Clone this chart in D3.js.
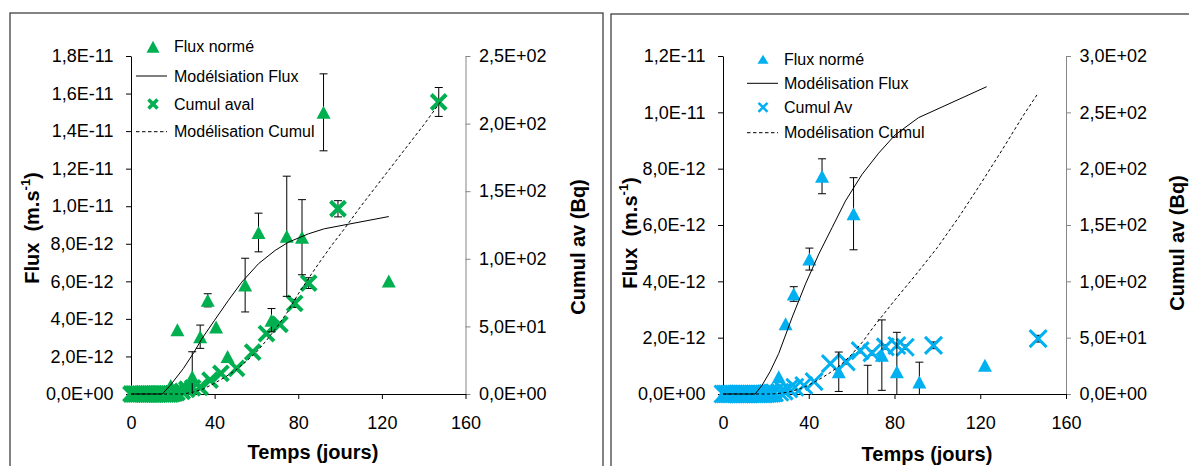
<!DOCTYPE html>
<html>
<head>
<meta charset="utf-8">
<script src="https://cdn.jsdelivr.net/npm/d3@7"></script>
<style>
  body { margin: 0; background: #ffffff; }
  svg { display: block; font-family: "Liberation Sans", Arial, sans-serif; }
</style>
</head>
<body>
<svg id="chart" width="1189" height="466"></svg>
<script>
// ---------------- DATA ----------------
const timeTicks = [0, 40, 80, 120, 160];
const timeTickLabels = ["0", "40", "80", "120", "160"];

// Left panel
const leftFluxTicks = [0, 2e-12, 4e-12, 6e-12, 8e-12, 1e-11, 1.2e-11, 1.4e-11, 1.6e-11, 1.8e-11];
const leftFluxTickLabels = ["0,0E+00", "2,0E-12", "4,0E-12", "6,0E-12", "8,0E-12", "1,0E-11", "1,2E-11", "1,4E-11", "1,6E-11", "1,8E-11"];
const leftCumTicks = [0, 50, 100, 150, 200, 250];
const leftCumTickLabels = ["0,0E+00", "5,0E+01", "1,0E+02", "1,5E+02", "2,0E+02", "2,5E+02"];

const leftFluxT = [0,1,2,3,4,5,6,7,8,9,10,11,12,13,14,15,16,17, 19, 22.2, 25.9, 29.3, 33.1, 36.7, 40.7, 46.2, 54.6, 61.0, 67.2, 74.5, 81.8, 92.1, 123.3];
const leftFluxV = [0,0,0,0,0,0,0,0,0,0,0,0,0,0,0,0,0,0, 0.45e-12, 3.42e-12, 0.35e-12, 0.92e-12, 3.05e-12, 4.99e-12, 3.57e-12, 2.0e-12, 5.8e-12, 8.6e-12, 3.93e-12, 8.4e-12, 8.35e-12, 15.0e-12, 6.02e-12];
const leftFluxErr = [0,0,0,0,0,0,0,0,0,0,0,0,0,0,0,0,0,0, 0, 0, 0, 1.33e-12, 0.62e-12, 0.35e-12, 0, 0, 1.43e-12, 1.03e-12, 0.62e-12, 3.2e-12, 2.0e-12, 2.05e-12, 0];

const leftCumT = [0,1,2,3,4,5,6,7,8,9,10,11,12,13,14,15,16,17,18,19,20,21,22, 24.5, 26.7, 29.5, 33, 37.8, 43, 50.5, 58.2, 64.8, 71.2, 78.3, 85, 99, 147.2];
const leftCumV = [0,0,0,0,0,0,0,0,0,0,0,0,0,0,0,0,0,0,0,0,0.3,0.6,1.0, 2, 3.5, 4.5, 5, 10.3, 15.2, 18.9, 31, 44.7, 51.5, 67, 82, 137, 216];
const leftCumErr = [0,0,0,0,0,0,0,0,0,0,0,0,0,0,0,0,0,0,0,0,0,0,0, 0, 0, 0, 0, 0, 0, 0, 0, 0, 0, 3, 4, 6, 10.7];

const leftModelFluxT = [0, 15, 18.7, 25, 30, 34, 40, 46.6, 53, 61, 69, 75.4, 84.9, 92.5, 123.3];
const leftModelFluxV = [0, 0, 0.45e-12, 1.35e-12, 2.2e-12, 2.96e-12, 3.93e-12, 4.99e-12, 5.96e-12, 6.94e-12, 7.65e-12, 8.09e-12, 8.53e-12, 8.80e-12, 9.45e-12];

const leftModelCumT = [0, 25, 30, 35, 40, 45, 50, 55, 60, 65, 70, 75, 80, 86, 90, 96, 102, 110, 120, 130, 140, 148];
const leftModelCumV = [0, 0, 1.5, 4, 8, 12.5, 17.5, 24, 31, 40, 50, 61, 74, 88, 97, 110, 122, 139, 159, 179, 199, 216];

const leftLegendLabels = ["Flux normé", "Modélsiation Flux", "Cumul aval", "Modélisation Cumul"];

// Right panel
const rightFluxTicks = [0, 2e-12, 4e-12, 6e-12, 8e-12, 1e-11, 1.2e-11];
const rightFluxTickLabels = ["0,0E+00", "2,0E-12", "4,0E-12", "6,0E-12", "8,0E-12", "1,0E-11", "1,2E-11"];
const rightCumTicks = [0, 50, 100, 150, 200, 250, 300];
const rightCumTickLabels = ["0,0E+00", "5,0E+01", "1,0E+02", "1,5E+02", "2,0E+02", "2,5E+02", "3,0E+02"];

const rightFluxT = [0,1,2,3,4,5,6,7,8,9,10,11,12,13,14,15,16,17,18,19,20, 26, 29.2, 33, 40.3, 46.2, 54, 60.9, 67.5, 74.1, 81.1, 91.6, 122.2];
const rightFluxV = [0,0,0,0,0,0,0,0,0,0,0,0,0,0,0,0,0,0,0,0,0, 0.61e-12, 2.49e-12, 3.55e-12, 4.79e-12, 7.73e-12, 0.79e-12, 6.40e-12, -0.1e-12, 1.38e-12, 0.79e-12, 0.43e-12, 1.02e-12];
const rightFluxErr = [0,0,0,0,0,0,0,0,0,0,0,0,0,0,0,0,0,0,0,0,0, 0, 0, 0.26e-12, 0.39e-12, 0.62e-12, 0.7e-12, 1.28e-12, 1.12e-12, 1.25e-12, 1.4e-12, 0.7e-12, 0];

const rightCumT = [0,1,2,3,4,5,6,7,8,9,10,11,12,13,14,15,16,17,18,19,20,21,22,23,24, 26.5, 28.5, 30.7, 33.5, 37.7, 42.5, 50.1, 57.5, 64, 69.5, 75.7, 81.1, 85, 98.2, 147];
const rightCumV = [0,0,0,0,0,0,0,0,0,0,0,0,0,0,0,0,0,0,0,0,0.2,0.4,0.6,0.8,1.0, 1.5, 2.5, 4.5, 6, 7.5, 11, 27, 28.5, 38.5, 36.5, 41.8, 43, 41.5, 43.2, 49.1];
const rightCumErr = [0,0,0,0,0,0,0,0,0,0,0,0,0,0,0,0,0,0,0,0,0,0,0,0,0, 0, 0, 0, 0, 0, 0, 0, 2, 2, 2, 2, 2, 2, 3, 3];

const rightModelFluxT = [0, 15, 18.3, 22, 26, 32.3, 38.5, 44.7, 50.9, 57.1, 64.8, 72.6, 80.3, 91.2, 123];
const rightModelFluxV = [0, 0, 0.32e-12, 0.8e-12, 1.44e-12, 2.73e-12, 3.91e-12, 4.97e-12, 5.91e-12, 6.85e-12, 7.79e-12, 8.55e-12, 9.20e-12, 9.81e-12, 10.91e-12];

const rightModelCumT = [0, 22, 25, 30, 35, 40, 45, 50, 55, 60, 65, 70, 75, 80, 90, 100, 110, 120, 130, 140, 147];
const rightModelCumV = [0, 0, 0.3, 1.5, 4, 8, 13, 19, 26, 35, 46, 59, 71, 83, 106, 130, 157, 186, 216, 247, 267];

const rightLegendLabels = ["Flux normé", "Modélisation Flux", "Cumul Av", "Modélisation Cumul"];

const xTitle = "Temps (jours)";
const yTitleMain = "Flux  (m.s";
const yTitleSup = "-1";
const y2Title = "Cumul av (Bq)";

// ---------------- DRAWING ----------------
const svg = d3.select("#chart");
const FONT = '"Liberation Sans", Arial, sans-serif';

// frames
svg.append("rect").attr("x", 10).attr("y", 13).attr("width", 593).attr("height", 470)
  .attr("fill", "none").attr("stroke", "#404040").attr("stroke-width", 1.3);
svg.append("rect").attr("x", 611).attr("y", 14).attr("width", 600).attr("height", 470)
  .attr("fill", "none").attr("stroke", "#404040").attr("stroke-width", 1.3);

function zip(a, b, c) { return a.map((d, i) => ({ t: d, v: b[i], e: c ? c[i] : 0 })); }

function triPath(cx, cy, w, h) {
  return `M${cx},${cy - h / 2}L${cx + w / 2},${cy + h / 2}L${cx - w / 2},${cy + h / 2}Z`;
}
function crossPath(cx, cy, r) {
  return `M${cx - r},${cy - r}L${cx + r},${cy + r}M${cx - r},${cy + r}L${cx + r},${cy - r}`;
}

function panel(o) {
  const g = svg.append("g");
  const top = 56, bottom = 394;
  const x = d3.scaleLinear().domain([0, 160]).range([o.x0, o.x1]);
  const yF = d3.scaleLinear().domain([0, o.fluxMax]).range([bottom, top]);
  const yC = d3.scaleLinear().domain([0, o.cumMax]).range([bottom, top]);

  // axes
  const axB = g.append("g").attr("transform", `translate(0,${bottom})`)
    .call(d3.axisBottom(x).tickValues(timeTicks).tickFormat((d, i) => timeTickLabels[i])
      .tickSize(5).tickSizeOuter(0).tickPadding(17.5));
  const axL = g.append("g").attr("transform", `translate(${o.x0},0)`)
    .call(d3.axisLeft(yF).tickValues(o.fluxTicks).tickFormat((d, i) => o.fluxTickLabels[i])
      .tickSize(5).tickSizeOuter(0).tickPadding(12.5));
  const axR = g.append("g").attr("transform", `translate(${o.x1},0)`)
    .call(d3.axisRight(yC).tickValues(o.cumTicks).tickFormat((d, i) => o.cumTickLabels[i])
      .tickSize(5).tickSizeOuter(0).tickPadding(8.5));
  [axB, axL, axR].forEach(a => {
    a.attr("font-size", 18).attr("font-family", FONT);
    a.selectAll("text").attr("fill", "#000");
  });
  axB.selectAll("path,line").attr("stroke", "#000");
  axL.selectAll("path,line").attr("stroke", "#000");
  axR.selectAll("path,line").attr("stroke", "#868686");
  axB.raise();

  // titles
  g.append("text").attr("x", o.xTitleX).attr("y", o.xTitleY)
    .attr("text-anchor", "middle").attr("dominant-baseline", "central")
    .attr("font-size", 20).attr("font-weight", "bold").attr("fill", "#000").text(xTitle);
  const yt = g.append("text").attr("transform", `translate(${o.yTitleX},${o.yTitleY}) rotate(-90)`)
    .attr("text-anchor", "middle").attr("dominant-baseline", "central")
    .attr("font-size", 20).attr("font-weight", "bold").attr("fill", "#000").style("white-space", "pre");
  yt.append("tspan").text(yTitleMain);
  yt.append("tspan").attr("font-size", 13).attr("dy", -7).text(yTitleSup);
  yt.append("tspan").attr("dy", 7).text(")");
  g.append("text").attr("transform", `translate(${o.y2TitleX},${o.y2TitleY}) rotate(-90)`)
    .attr("text-anchor", "middle").attr("dominant-baseline", "central")
    .attr("font-size", 20).attr("font-weight", "bold").attr("fill", "#000").text(y2Title);

  const fluxPts = zip(o.fluxT, o.fluxV, o.fluxErr);
  const cumPts = zip(o.cumT, o.cumV, o.cumErr);

  function errBars(pts, y, dom) {
    const eg = g.append("g").attr("stroke", "#000").attr("stroke-width", 1).attr("fill", "none");
    pts.filter(d => d.e > 0).forEach(d => {
      const cx = x(d.t);
      const hi = Math.min(d.v + d.e, dom), lo = Math.max(d.v - d.e, 0);
      eg.append("line").attr("x1", cx).attr("x2", cx).attr("y1", y(hi)).attr("y2", y(lo));
      if (d.v + d.e <= dom) eg.append("line").attr("x1", cx - 4).attr("x2", cx + 4).attr("y1", y(hi)).attr("y2", y(hi));
      if (d.v - d.e >= 0) eg.append("line").attr("x1", cx - 4).attr("x2", cx + 4).attr("y1", y(lo)).attr("y2", y(lo));
    });
  }

  // Cumul crosses (secondary axis)
  errBars(cumPts, yC, o.cumMax);
  g.append("g").selectAll("path").data(cumPts.filter(d => d.v >= 0)).join("path")
    .attr("d", d => crossPath(x(d.t), yC(d.v), o.crossR))
    .attr("stroke", o.color).attr("stroke-width", o.crossW).attr("fill", "none");

  // Flux triangles
  errBars(fluxPts, yF, o.fluxMax);
  g.append("g").selectAll("path").data(fluxPts.filter(d => d.v >= 0)).join("path")
    .attr("d", d => triPath(x(d.t), yF(d.v), 14, 13))
    .attr("fill", o.color);

  // model lines
  const lineF = d3.line().x(d => x(d.t)).y(d => yF(d.v));
  const lineC = d3.line().x(d => x(d.t)).y(d => yC(d.v));
  g.append("path").datum(zip(o.mFluxT, o.mFluxV)).attr("d", lineF)
    .attr("fill", "none").attr("stroke", "#000").attr("stroke-width", 1);
  g.append("path").datum(zip(o.mCumT, o.mCumV)).attr("d", lineC)
    .attr("fill", "none").attr("stroke", "#000").attr("stroke-width", 1).attr("stroke-dasharray", "3,2.5");

  // legend
  const lg = g.append("g");
  const L = o.legend;
  lg.append("path").attr("d", triPath(L.sx, L.rows[0], L.triW, L.triH)).attr("fill", o.color);
  lg.append("line").attr("x1", L.lx0).attr("x2", L.lx1).attr("y1", L.rows[1]).attr("y2", L.rows[1])
    .attr("stroke", "#000").attr("stroke-width", 1);
  lg.append("path").attr("d", crossPath(L.sx, L.rows[2], 4.5)).attr("stroke", o.color)
    .attr("stroke-width", L.crossW).attr("fill", "none");
  lg.append("line").attr("x1", L.lx0).attr("x2", L.lx1).attr("y1", L.rows[3]).attr("y2", L.rows[3])
    .attr("stroke", "#000").attr("stroke-width", 1).attr("stroke-dasharray", "3.5,2.5");
  o.legendLabels.forEach((s, i) => {
    lg.append("text").attr("x", L.tx).attr("y", L.rows[i]).attr("dominant-baseline", "central")
      .attr("font-size", 16).attr("fill", "#000").text(s);
  });
}

panel({
  x0: 131, x1: 465.5, fluxMax: 1.8e-11, cumMax: 250,
  fluxTicks: leftFluxTicks, fluxTickLabels: leftFluxTickLabels,
  cumTicks: leftCumTicks, cumTickLabels: leftCumTickLabels,
  fluxT: leftFluxT, fluxV: leftFluxV, fluxErr: leftFluxErr,
  cumT: leftCumT, cumV: leftCumV, cumErr: leftCumErr,
  mFluxT: leftModelFluxT, mFluxV: leftModelFluxV,
  mCumT: leftModelCumT, mCumV: leftModelCumV,
  color: "#00B050", crossW: 4, crossR: 7.5,
  legendLabels: leftLegendLabels,
  legend: { sx: 153, lx0: 136, lx1: 167, tx: 174, rows: [46.7, 76, 104, 131.7], triW: 13, triH: 12, crossW: 3.5 },
  xTitleX: 313, xTitleY: 452, yTitleX: 32, yTitleY: 228, y2TitleX: 578, y2TitleY: 247
});

panel({
  x0: 723, x1: 1066, fluxMax: 1.2e-11, cumMax: 300,
  fluxTicks: rightFluxTicks, fluxTickLabels: rightFluxTickLabels,
  cumTicks: rightCumTicks, cumTickLabels: rightCumTickLabels,
  fluxT: rightFluxT, fluxV: rightFluxV, fluxErr: rightFluxErr,
  cumT: rightCumT, cumV: rightCumV, cumErr: rightCumErr,
  mFluxT: rightModelFluxT, mFluxV: rightModelFluxV,
  mCumT: rightModelCumT, mCumV: rightModelCumV,
  color: "#00B0F0", crossW: 3, crossR: 8.5,
  legendLabels: rightLegendLabels,
  legend: { sx: 763, lx0: 747, lx1: 778, tx: 784, rows: [59.3, 83.3, 107.3, 132.7], triW: 11, triH: 9, crossW: 2.5 },
  xTitleX: 927, xTitleY: 454, yTitleX: 630, yTitleY: 233, y2TitleX: 1177, y2TitleY: 243
});
</script>
</body>
</html>
